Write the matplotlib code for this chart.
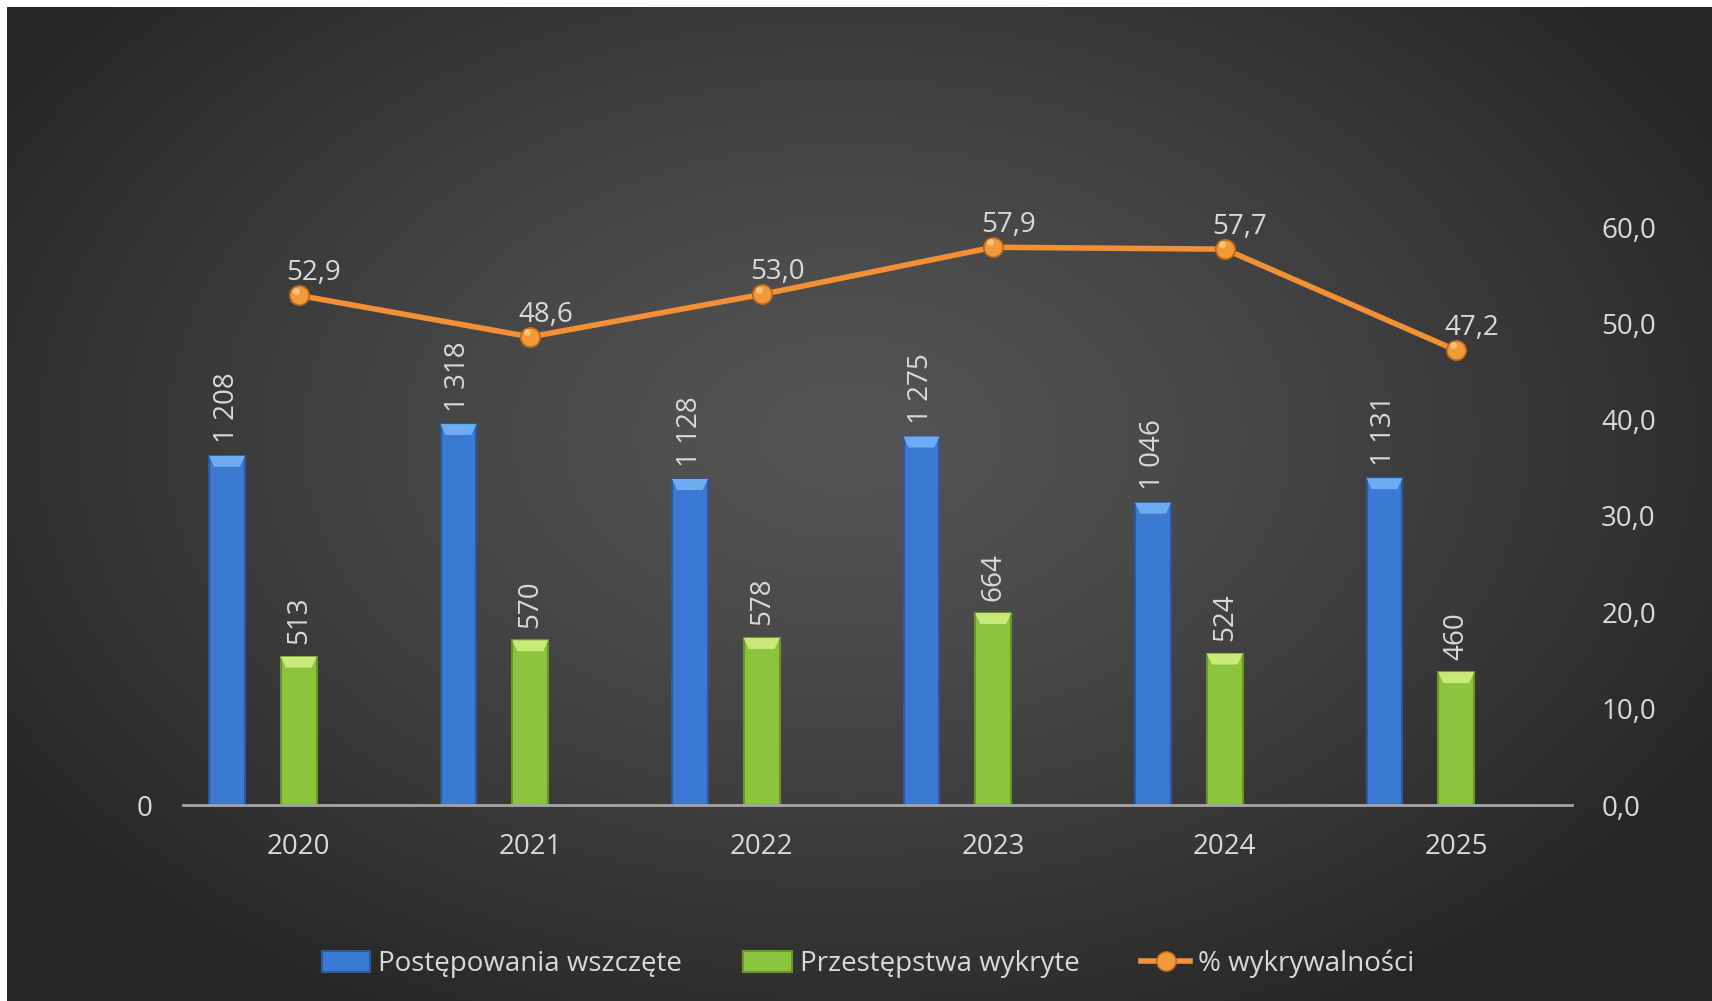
import numpy as np
import matplotlib

matplotlib.use("Agg")
import matplotlib.pyplot as plt
from matplotlib.patches import Patch, Polygon
from matplotlib.lines import Line2D
from matplotlib.ticker import FixedLocator, FuncFormatter

YEARS = ["2020", "2021", "2022", "2023", "2024", "2025"]
WSZCZETE = [1208, 1318, 1128, 1275, 1046, 1131]
WYKRYTE = [513, 570, 578, 664, 524, 460]
WYKRYWALNOSC = [52.9, 48.6, 53.0, 57.9, 57.7, 47.2]
LABELS = ["Postępowania wszczęte", "Przestępstwa wykryte", "% wykrywalności"]

W, H = 1712, 1001
TEXT = "#D9D9D9"
BLUE, BLUE_TOP, BLUE_EDGE = "#3B7AD3", "#6DABF2", "#2A5A9C"
GREEN, GREEN_TOP, GREEN_EDGE = "#8CC43E", "#C8E97C", "#6A952B"
ORANGE = "#F39035"

plt.rcParams["font.family"] = ["Open Sans", "DejaVu Sans"]
plt.rcParams["font.size"] = 20

fig = plt.figure(figsize=(W / 100, H / 100), dpi=100, facecolor="white")

# dark radial background, white strip on the left and top
bg = fig.add_axes([7 / W, 0, 1 - 7 / W, 1 - 7 / H])
bg.axis("off")
yy, xx = np.mgrid[0:H - 7, 0:W - 7]
r = np.sqrt(((xx - 840) / 1000.0) ** 2 + ((yy - 430) / 660.0) ** 2)
shade = 0x54 - (0x54 - 0x26) * np.clip(r, 0, 1) ** 1.3
bg.imshow(np.dstack([shade / 255.0] * 3), aspect="auto", extent=(0, 1, 0, 1))
bg.set_xlim(0, 1)
bg.set_ylim(0, 1)

ax_px = (183, 805, 1389, 578)  # left, bottom(from top), width, height
ax = fig.add_axes([ax_px[0] / W, (H - ax_px[1]) / H, ax_px[2] / W, ax_px[3] / H])
ax.patch.set_alpha(0)
ax2 = ax.twinx()

x = np.arange(len(YEARS))
ax.set_xlim(-0.5, len(YEARS) - 0.5)
ax.set_ylim(0, 2000)
ax2.set_ylim(0, 60)

px_x = ax_px[2] / (len(YEARS))  # pixels per category
px_y = ax_px[3] / 2000.0  # pixels per unit on left axis

bar_w = 0.155
offsets = [-0.31, 0.0]
series = [
    (WSZCZETE, BLUE, BLUE_TOP, BLUE_EDGE),
    (WYKRYTE, GREEN, GREEN_TOP, GREEN_EDGE),
]
for off, (vals, col, top, edge) in zip(offsets, series):
    xs = x + off
    ax.bar(xs, vals, width=bar_w, color=col, edgecolor=edge, linewidth=1.5, zorder=2)
    dx = 5 / px_x
    dy = 11 / px_y
    for xc, v in zip(xs, vals):
        poly = Polygon(
            [
                (xc - bar_w / 2, v),
                (xc + bar_w / 2, v),
                (xc + bar_w / 2 - dx, v - dy),
                (xc - bar_w / 2 + dx, v - dy),
            ],
            closed=True, facecolor=top, edgecolor="none", zorder=3,
        )
        ax.add_patch(poly)
        ax.annotate(
            f"{v:,}".replace(",", " "), (xc, v), xytext=(0, 9), textcoords="offset points",
            rotation=90, ha="center", va="bottom", color=TEXT, fontsize=20, zorder=4,
        )

ax2.plot(x, WYKRYWALNOSC, color=ORANGE, linewidth=4, zorder=5, solid_capstyle="round")
ax2.plot(x, WYKRYWALNOSC, linestyle="none", marker="o", markersize=14,
         markerfacecolor="#F29A3A", markeredgecolor="#B9651F", markeredgewidth=1.2, zorder=6)
ax2.plot(x - 0.012, np.array(WYKRYWALNOSC) + 0.5, linestyle="none", marker="o", markersize=5,
         markerfacecolor="#FFC98A", markeredgecolor="none", alpha=0.8, zorder=7)
for xc, v in zip(x, WYKRYWALNOSC):
    ax2.annotate(
        f"{v:.1f}".replace(".", ","), (xc, v), xytext=(11, 16), textcoords="offset points",
        ha="center", va="center", color=TEXT, fontsize=20, zorder=8,
    )

for a in (ax, ax2):
    for s in a.spines.values():
        s.set_visible(False)
ax.spines["bottom"].set_visible(True)
ax.spines["bottom"].set_color("#A6A6A6")
ax.spines["bottom"].set_linewidth(2)
ax.spines["bottom"].set_zorder(4)

ax.set_xticks(x)
ax.set_xticklabels(YEARS)
ax.yaxis.set_major_locator(FixedLocator([0]))
ax.yaxis.set_major_formatter(FuncFormatter(lambda v, p: f"{v:.0f}"))
ax.tick_params(axis="x", length=0, pad=20, colors=TEXT, labelsize=20)
ax.tick_params(axis="y", length=0, pad=22, colors=TEXT, labelsize=20)
ax2.yaxis.set_major_locator(FixedLocator(np.arange(0, 61, 10)))
ax2.yaxis.set_major_formatter(FuncFormatter(lambda v, p: f"{v:.1f}".replace(".", ",")))
ax2.tick_params(axis="y", length=0, pad=21, colors=TEXT, labelsize=20)

handles = [
    Patch(facecolor=BLUE, edgecolor=BLUE_EDGE, linewidth=1.5),
    Patch(facecolor=GREEN, edgecolor=GREEN_EDGE, linewidth=1.5),
    Line2D([], [], color=ORANGE, linewidth=4, marker="o", markersize=14,
           markerfacecolor="#F29A3A", markeredgecolor="#B9651F"),
]
leg = fig.legend(
    handles, LABELS, loc="center", bbox_to_anchor=(0.507, 0.037), ncol=3, frameon=False,
    fontsize=20, handlelength=1.75, handleheight=0.75, handletextpad=0.3, columnspacing=2.2,
)
for t in leg.get_texts():
    t.set_color(TEXT)

fig.savefig("out.png", dpi=100, facecolor=fig.get_facecolor())
